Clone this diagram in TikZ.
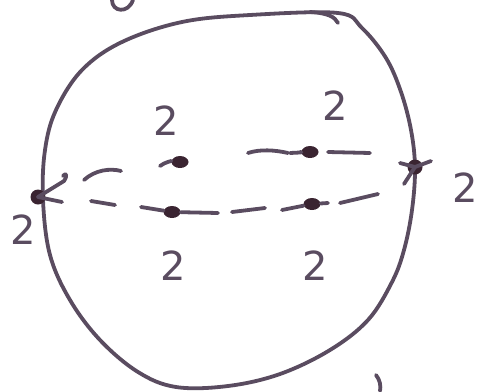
\documentclass[tikz,border=0pt]{standalone}
\usepackage{fontspec}
\setmainfont{DejaVu Sans}
\definecolor{ink}{HTML}{5A4C60}
\definecolor{dotink}{HTML}{3A2431}
\tikzset{
  pen/.style={draw=ink, line width=3.8pt, line cap=round, line join=round},
  vtx/.style={ellipse, fill=dotink, inner sep=0pt, minimum width=17pt, minimum height=12pt},
  pt/.style={circle, fill=dotink, inner sep=0pt, minimum size=15pt},
  lab/.style={text=ink, font=\fontsize{40}{40}\selectfont, inner sep=0pt}
}
\usetikzlibrary{shapes.geometric}
\begin{document}
\begin{tikzpicture}[x=1pt,y=-1pt]
\useasboundingbox (0,0) rectangle (481,391);
% outer closed curve
\draw[pen] plot[smooth cycle, tension=0.6] coordinates {
 (250,15) (338,13) (362,28) (386,58) (401,92) (411,130) (415,168) (412,210)
 (404,250) (392,282) (368,320) (330,350) (280,374) (228,386) (176,387)
 (138,372) (100,340) (70,300) (50,255) (43,200) (45,150) (56,110) (82,70)
 (122,42) (182,22)};
\draw[pen] (310,12) .. controls (328,13) and (335,17) .. (338,23);
% fragments at edges
\draw[pen] (112,0) .. controls (112,12) and (128,14) .. (133,0);
\draw[pen] (376,375) .. controls (380,380) and (381,386) .. (380,391);
% end points
\node[pt] (L) at (38,197) {};
\node[pt] (R) at (415,167) {};
\node[vtx] (u1) at (180,162) {};
\node[vtx] (u2) at (310,152) {};
\node[vtx] (l1) at (172,212) {};
\node[vtx] (l2) at (312,204) {};
% marks at the end points
\draw[pen] (L.center) -- (64,181) .. controls (68,175) and (66,172) .. (63,176);
\draw[pen] (L.center) -- (62,202);
\draw[pen] (R.center) -- (400,163);
\draw[pen] (R.center) -- (431,161);
\draw[pen] (R.center) -- (404,184);
% dashed connectors
\draw[pen] (84,180) .. controls (95,170) and (110,168) .. (121,171);
\draw[pen] (160,166) .. controls (165,162) and (172,161) .. (u1);
\draw[pen] (248,153) .. controls (260,149) and (275,150) .. (288,153);
\draw[pen] (290,153) -- (u2) -- (300,152);
\draw[pen] (328,152) -- (370,153);
\draw[pen] (91,201) -- (115,205);
\draw[pen] (141,207) -- (l1) -- (218,213);
\draw[pen] (232,212) -- (265,208);
\draw[pen] (282,210) -- (l2) -- (328,203);
\draw[pen] (340,203) -- (378,194);
% labels
\node[lab] (a1) at (166,121) {2};
\node[lab] (a2) at (335,106) {2};
\node[lab] (a3) at (23,230) {2};
\node[lab] (a4) at (465,188) {2};
\node[lab] (a5) at (173,266) {2};
\node[lab] (a6) at (315,266) {2};
\end{tikzpicture}
\end{document}
